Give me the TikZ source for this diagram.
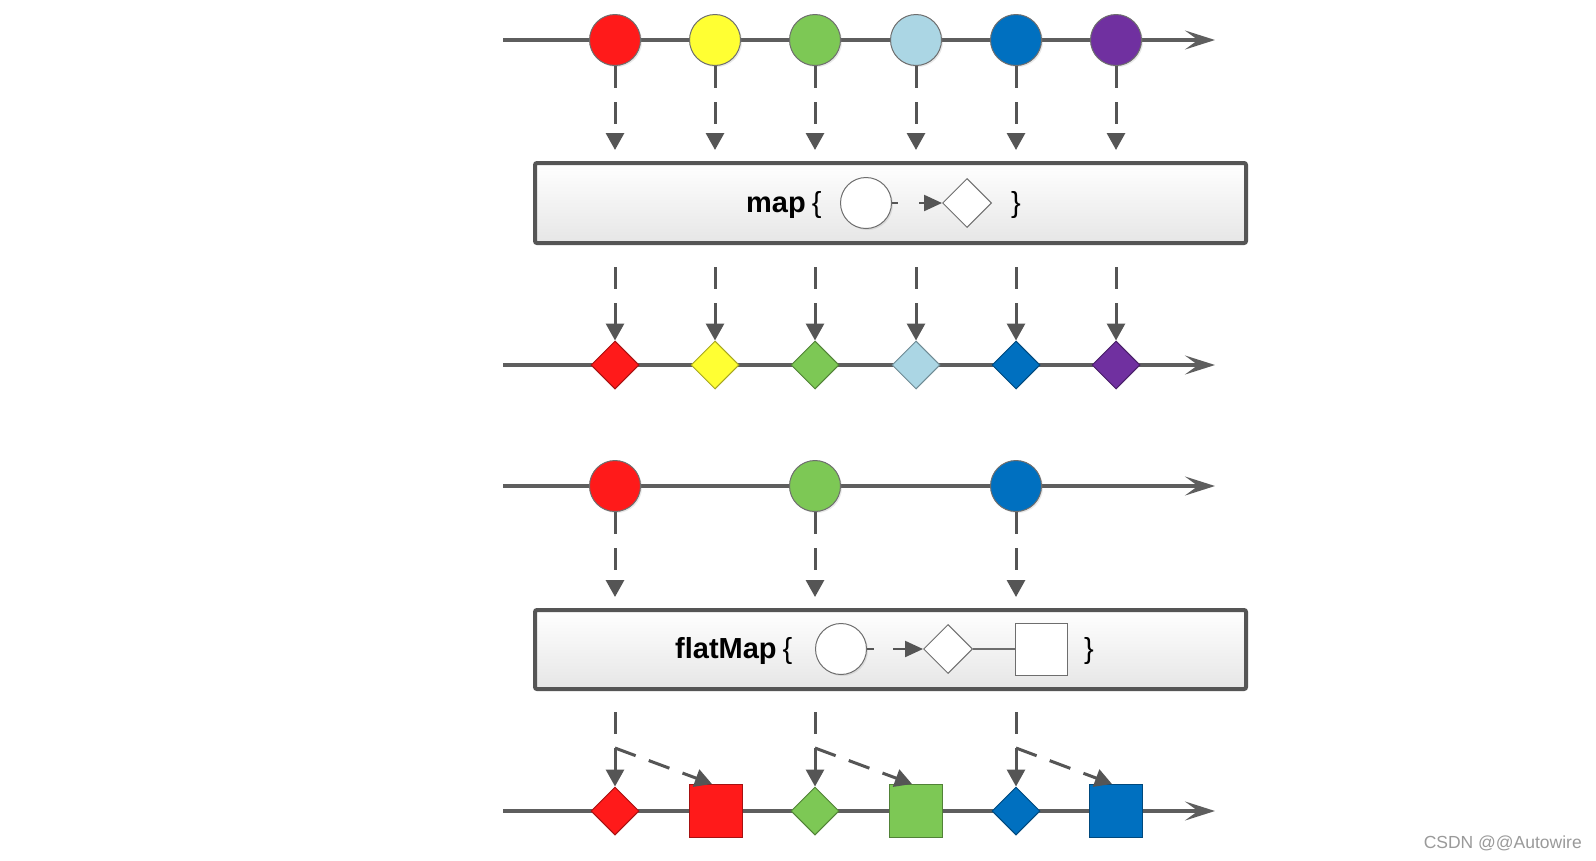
\documentclass[tikz,border=0pt]{standalone}
\usepackage{fontspec}
\setmainfont{Liberation Sans}
\usetikzlibrary{arrows.meta,shapes.geometric,shadows}
\definecolor{axisgray}{HTML}{5E5E5E}
\definecolor{arrgray}{HTML}{555555}
\definecolor{ballline}{HTML}{6E6E6E}
\definecolor{boxline}{HTML}{555555}
\definecolor{boxbot}{HTML}{E6E6E6}
\definecolor{wmgray}{HTML}{9A9A9A}
\definecolor{cred}{HTML}{FF1A1A}
\definecolor{cyellow}{HTML}{FFFF33}
\definecolor{cgreen}{HTML}{7DC855}
\definecolor{clblue}{HTML}{ABD6E4}
\definecolor{cblue}{HTML}{0070C0}
\definecolor{cpurple}{HTML}{7030A0}
\begin{document}
\begin{tikzpicture}[x=1pt,y=-1pt,
  axis/.style={line width=3.2pt, draw=axisgray, -{Stealth[length=30pt,width=19pt,inset=13pt]}},
  ball/.style={circle, minimum size=51pt, inner sep=0pt, draw=ballline, line width=1pt,
    drop shadow={shadow xshift=1.5pt, shadow yshift=-1.5pt, opacity=0.18}},
  gem/.style={diamond, minimum width=48pt, minimum height=48pt, inner sep=0pt, line width=1pt, draw=#1!65!black, fill=#1},
  blk/.style={rectangle, minimum size=53pt, inner sep=0pt, line width=1pt, draw=#1!65!black, fill=#1},
  darr/.style={line width=3pt, draw=arrgray, dash pattern=on 22pt off 14pt, -{Triangle[length=17pt,width=18pt]}},
  iarr/.style={line width=2.2pt, draw=arrgray, -{Triangle[length=18pt,width=16pt]}},
  opbox/.style={rectangle, rounded corners=2pt, line width=4pt, draw=boxline, top color=white, bottom color=boxbot, minimum width=711pt, inner sep=0pt},
  optext/.style={font=\fontsize{29}{29}\selectfont, anchor=base west, inner sep=0pt},
]
\fill[white] (0,0) rectangle (1596,860);
\useasboundingbox (0,0) rectangle (1596,860);

% ---------- row 1: source ----------
\coordinate (s1) at (503,40);
\coordinate (t1) at (1215,40);
\draw[axis] (s1) -- (t1);
\node[ball, fill=cred]    (a1) at (615,40) {};
\node[ball, fill=cyellow] (a2) at (715,40) {};
\node[ball, fill=cgreen]  (a3) at (815,40) {};
\node[ball, fill=clblue]  (a4) at (916,40) {};
\node[ball, fill=cblue]   (a5) at (1016,40) {};
\node[ball, fill=cpurple] (a6) at (1116,40) {};

% ---------- map box ----------
\node[opbox, minimum height=80pt] (mapbox) at (890.5,203) {};
\node[optext] (maptxt) at (746,212) {\textbf{map}\hspace{6pt}\{};
\node[ball, fill=white] (mc) at (866,203) {};
\node[diamond, minimum width=49pt, minimum height=49pt, inner sep=0pt, draw=ballline, line width=1pt, fill=white] (md) at (967,203) {};
\node[optext] (mapclose) at (1011,212) {\}};
\draw[iarr, dash pattern=on 6pt off 21pt on 30pt] (mc) -- (md);

\foreach \i in {1,...,6}{
  \draw[darr, shorten >=11pt] (a\i) -- (a\i |- mapbox.north);
}

% ---------- row 2: map result ----------
\coordinate (s2) at (503,365);
\coordinate (t2) at (1215,365);
\draw[axis] (s2) -- (t2);
\node[gem=cred]    (d1) at (615,365) {};
\node[gem=cyellow] (d2) at (715,365) {};
\node[gem=cgreen]  (d3) at (815,365) {};
\node[gem=clblue]  (d4) at (916,365) {};
\node[gem=cblue]   (d5) at (1016,365) {};
\node[gem=cpurple] (d6) at (1116,365) {};
\foreach \i in {1,...,6}{
  \draw[darr, shorten <=22pt] (d\i |- mapbox.south) -- (d\i);
}

% ---------- row 3: source ----------
\coordinate (s3) at (503,486);
\coordinate (t3) at (1215,486);
\draw[axis] (s3) -- (t3);
\node[ball, fill=cred]   (c1) at (615,486) {};
\node[ball, fill=cgreen] (c2) at (815,486) {};
\node[ball, fill=cblue]  (c3) at (1016,486) {};

% ---------- flatMap box ----------
\node[opbox, minimum height=79pt] (fmbox) at (890.5,649.5) {};
\node[optext] (fmtxt) at (675,658.5) {\textbf{flatMap}\hspace{6pt}\{};
\node[ball, fill=white] (fc) at (841,649) {};
\node[diamond, minimum width=49pt, minimum height=49pt, inner sep=0pt, draw=ballline, line width=1pt, fill=white] (fd) at (948,649) {};
\node[rectangle, minimum size=52pt, inner sep=0pt, draw=ballline, line width=1pt, fill=white] (fs) at (1041,649) {};
\node[optext] (fmclose) at (1084,658.5) {\}};
\draw[iarr, dash pattern=on 7pt off 19pt on 30pt] (fc) -- (fd);
\draw[line width=1.2pt, draw=ballline] (fd) -- (fs);

\foreach \i in {1,2,3}{
  \draw[darr, shorten >=11pt] (c\i) -- (c\i |- fmbox.north);
}

% ---------- row 4: flatMap result ----------
\coordinate (s4) at (503,811);
\coordinate (t4) at (1215,811);
\draw[axis] (s4) -- (t4);
\node[gem=cred]   (e1) at (615,811) {};
\node[blk=cred]   (q1) at (716,811) {};
\node[gem=cgreen] (e2) at (815,811) {};
\node[blk=cgreen] (q2) at (916,811) {};
\node[gem=cblue]  (e3) at (1016,811) {};
\node[blk=cblue]  (q3) at (1116,811) {};
\coordinate (k1) at (615,748);
\coordinate (k2) at (815,748);
\coordinate (k3) at (1016,748);
\foreach \i in {1,2,3}{
  \draw[darr, shorten <=21pt] (e\i |- fmbox.south) -- (e\i);
  \draw[darr] (k\i) -- ([xshift=-4pt]q\i.north);
}

% ---------- watermark ----------
\node[font=\fontsize{17.5}{17.5}\selectfont, text=wmgray, anchor=east, inner sep=0pt] (wm) at (1582,843) {CSDN @@Autowire};
\end{tikzpicture}
\end{document}
